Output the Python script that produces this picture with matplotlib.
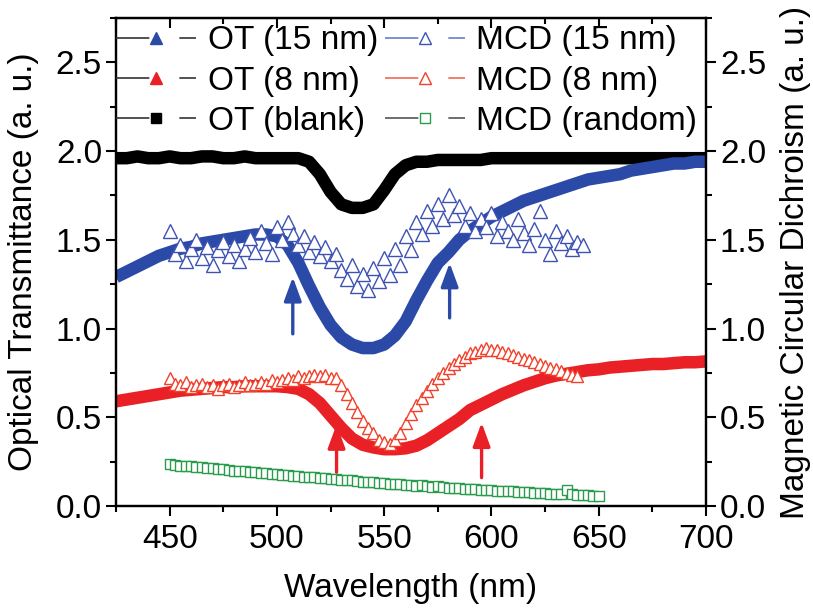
import numpy as np
import matplotlib
matplotlib.use("Agg")
import matplotlib.pyplot as plt
from matplotlib.lines import Line2D
from matplotlib.ticker import MultipleLocator, FormatStrFormatter

plt.rcParams['font.family'] = ['Liberation Sans', 'DejaVu Sans']

# optical transmittance, read every 5 nm
wl_ot = np.arange(425, 701, 5)
ot_blank = [1.96, 1.96, 1.97, 1.96, 1.96, 1.97, 1.96, 1.96, 1.97, 1.97,
            1.96, 1.96, 1.97, 1.96, 1.96, 1.96, 1.96, 1.96,
            1.94, 1.87, 1.77, 1.70, 1.68, 1.68, 1.70, 1.78, 1.87, 1.92,
            1.94, 1.94, 1.95, 1.95, 1.95, 1.95, 1.95, 1.96, 1.96, 1.96,
            1.96, 1.96, 1.96, 1.96, 1.96, 1.96, 1.96, 1.96, 1.96, 1.96,
            1.96, 1.96, 1.96, 1.96, 1.96, 1.96, 1.96, 1.96]
ot_15 = [1.29, 1.32, 1.35, 1.38, 1.41, 1.43, 1.45, 1.46, 1.48, 1.49,
         1.50, 1.51, 1.52, 1.53, 1.53, 1.52, 1.47, 1.37, 1.24, 1.12,
         1.02, 0.95, 0.91, 0.89, 0.89, 0.91, 0.96, 1.04, 1.16, 1.27,
         1.37, 1.43, 1.50, 1.55, 1.59, 1.63, 1.66, 1.69, 1.72, 1.74,
         1.76, 1.78, 1.80, 1.82, 1.84, 1.85, 1.86, 1.87, 1.89, 1.90,
         1.91, 1.92, 1.93, 1.93, 1.94, 1.94]
ot_8 = [0.59, 0.60, 0.61, 0.62, 0.63, 0.64, 0.65, 0.655, 0.66, 0.665,
        0.67, 0.67, 0.675, 0.675, 0.675, 0.675, 0.67, 0.66, 0.63, 0.58,
        0.51, 0.44, 0.38, 0.345, 0.33, 0.32, 0.32, 0.325, 0.34, 0.37,
        0.41, 0.45, 0.49, 0.54, 0.57, 0.60, 0.63, 0.655, 0.68, 0.70,
        0.72, 0.735, 0.745, 0.755, 0.765, 0.77, 0.78, 0.785, 0.79, 0.795,
        0.80, 0.80, 0.805, 0.81, 0.81, 0.815]

# magnetic circular dichroism, read every 2.5 nm
wl_mcd15 = np.arange(450, 643, 2.5)
mcd_15 = [1.55, 1.42, 1.47, 1.38, 1.45, 1.50, 1.40, 1.46, 1.36, 1.44,
          1.49, 1.41, 1.47, 1.38, 1.45, 1.51, 1.43, 1.55, 1.48, 1.42,
          1.57, 1.50, 1.60, 1.53, 1.47, 1.52, 1.43, 1.49, 1.41, 1.46,
          1.38, 1.42, 1.33, 1.28, 1.36, 1.24, 1.31, 1.22, 1.34, 1.27,
          1.40, 1.30, 1.45, 1.36, 1.52, 1.44, 1.60, 1.53, 1.66, 1.58,
          1.70, 1.62, 1.75, 1.64, 1.69, 1.58, 1.65, 1.55, 1.62, 1.57,
          1.65, 1.52, 1.60, 1.55, 1.50, 1.62, 1.54, 1.47, 1.56, 1.66,
          1.50, 1.42, 1.55, 1.48, 1.52, 1.45, 1.49, 1.47]
wl_mcd8 = np.arange(450, 641, 2.5)
mcd_8 = [0.72, 0.69, 0.68, 0.70, 0.67, 0.68, 0.69, 0.67, 0.68, 0.66,
         0.68, 0.69, 0.67, 0.68, 0.70, 0.68, 0.69, 0.70, 0.69, 0.71,
         0.70, 0.71, 0.72, 0.71, 0.73, 0.72, 0.73, 0.74, 0.73, 0.74,
         0.72, 0.72, 0.68, 0.63, 0.58, 0.53, 0.48, 0.44, 0.41, 0.37,
         0.36, 0.35, 0.37, 0.41, 0.47, 0.52, 0.57, 0.61, 0.65, 0.69,
         0.72, 0.75, 0.78, 0.80, 0.82, 0.84, 0.86, 0.87, 0.88, 0.89,
         0.88, 0.88, 0.87, 0.86, 0.85, 0.84, 0.83, 0.82, 0.81, 0.80,
         0.79, 0.78, 0.77, 0.76, 0.75, 0.74, 0.73]
wl_rand = np.arange(450, 651, 2.5)
mcd_rand = [0.235, 0.232, 0.228, 0.226, 0.224, 0.222, 0.218, 0.216, 0.212, 0.210,
            0.206, 0.205, 0.200, 0.198, 0.196, 0.193, 0.190, 0.188, 0.184, 0.183,
            0.180, 0.176, 0.175, 0.170, 0.168, 0.166, 0.163, 0.162, 0.158, 0.156,
            0.152, 0.151, 0.148, 0.148, 0.145, 0.140, 0.138, 0.137, 0.134, 0.130,
            0.129, 0.126, 0.124, 0.123, 0.120, 0.118, 0.115, 0.117, 0.112, 0.108,
            0.110, 0.105, 0.103, 0.100, 0.099, 0.097, 0.095, 0.096, 0.090, 0.091,
            0.088, 0.087, 0.085, 0.083, 0.086, 0.080, 0.078, 0.079, 0.076, 0.074,
            0.072, 0.070, 0.068, 0.066, 0.090, 0.065, 0.062, 0.061, 0.060, 0.058,
            0.057]

# arrows: (wavelength, tail, head)
arrows_15 = [(507.4, 0.97, 1.29), (580.5, 1.06, 1.37)]
arrows_8 = [(527.8, 0.19, 0.46), (595.4, 0.16, 0.47)]

blue = '#2b4aa8'
red = '#ea2027'
blue_o = '#3d52b3'
red_o = '#f2402a'
green = '#2a9a4c'

fig = plt.figure(figsize=(8.13, 6.1), dpi=100)
ax = fig.add_axes([116 / 813, 1 - 506 / 610, 590 / 813, 488 / 610])
ax2 = ax.twinx()

ax.plot(wl_ot, ot_blank, color='black', lw=9, solid_capstyle='butt', zorder=2)
ax.plot(wl_ot, ot_15, color=blue, lw=9, solid_capstyle='butt', zorder=2)
ax.plot(wl_ot, ot_8, color=red, lw=9, solid_capstyle='butt', zorder=2)

ax2.plot(wl_rand, mcd_rand, ls='none', marker='s', ms=7, mfc='white', mec=green, mew=1.0)
ax2.plot(wl_mcd8, mcd_8, ls='none', marker='^', ms=8, mfc='white', mec=red_o, mew=1.0)
ax2.plot(wl_mcd15, mcd_15, ls='none', marker='^', ms=10, mfc='white', mec=blue_o, mew=1.0)

arrow_style = '-|>,head_length=0.6,head_width=0.22'
for (x, y0, y1) in arrows_15:
    ax.annotate('', xy=(x, y1), xytext=(x, y0),
                arrowprops=dict(arrowstyle=arrow_style, color=blue, lw=2.4,
                                mutation_scale=24, shrinkA=0, shrinkB=0))
for (x, y0, y1) in arrows_8:
    ax.annotate('', xy=(x, y1), xytext=(x, y0),
                arrowprops=dict(arrowstyle=arrow_style, color=red, lw=2.4,
                                mutation_scale=24, shrinkA=0, shrinkB=0))

for a in (ax, ax2):
    a.set_xlim(425, 700)
    a.set_ylim(0, 2.75)
    a.yaxis.set_major_locator(MultipleLocator(0.5))
    a.yaxis.set_minor_locator(MultipleLocator(0.25))
    a.yaxis.set_major_formatter(FormatStrFormatter('%.1f'))
    a.tick_params(axis='y', which='major', length=7, width=1.5, labelsize=24, pad=3)
    a.tick_params(axis='y', which='minor', length=4, width=1.5)
    for s in a.spines.values():
        s.set_linewidth(1.6)

ax.xaxis.set_major_locator(MultipleLocator(50))
ax.xaxis.set_minor_locator(MultipleLocator(25))
ax.tick_params(axis='x', which='major', length=7, width=1.5, labelsize=24, pad=6)
ax.tick_params(axis='x', which='minor', length=4, width=1.5)

top = ax.secondary_xaxis('top')
top.xaxis.set_major_locator(MultipleLocator(50))
top.xaxis.set_minor_locator(MultipleLocator(25))
top.tick_params(axis='x', which='both', direction='in', labeltop=False, width=1.5)
top.tick_params(axis='x', which='major', length=7)
top.tick_params(axis='x', which='minor', length=4)

ax.set_xlabel('Wavelength (nm)', fontsize=24, labelpad=13)
ax.set_ylabel('Optical Transmittance (a. u.)', fontsize=24, labelpad=12)
ax2.set_ylabel('Magnetic Circular Dichroism (a. u.)', fontsize=24, labelpad=10)

dash = (0, (20, 18))
handles = [
    Line2D([], [], color='#333333', lw=1.2, ls=dash, marker='^', ms=8, mfc=blue, mec=blue),
    Line2D([], [], color='#333333', lw=1.2, ls=dash, marker='^', ms=9, mfc=red, mec=red),
    Line2D([], [], color='#333333', lw=1.2, ls=dash, marker='s', ms=7, mfc='black', mec='black'),
    Line2D([], [], color='#6a7cc8', lw=1.2, ls=dash, marker='^', ms=8, mfc='white', mec=blue_o),
    Line2D([], [], color='#f06a50', lw=1.2, ls=dash, marker='^', ms=8, mfc='white', mec=red_o),
    Line2D([], [], color='#555555', lw=1.2, ls=dash, marker='s', ms=7, mfc='white', mec=green),
]
labels = ['OT (15 nm)', 'OT (8 nm)', 'OT (blank)',
          'MCD (15 nm)', 'MCD (8 nm)', 'MCD (random)']
ax2.legend(handles, labels, loc='upper left', bbox_to_anchor=(0.0, 0.985), ncol=2,
           frameon=False, fontsize=24, handlelength=2.4, handletextpad=0.35,
           columnspacing=0.2, labelspacing=0.28, borderpad=0, borderaxespad=0,
           numpoints=1)

fig.savefig('out.png', dpi=100)
